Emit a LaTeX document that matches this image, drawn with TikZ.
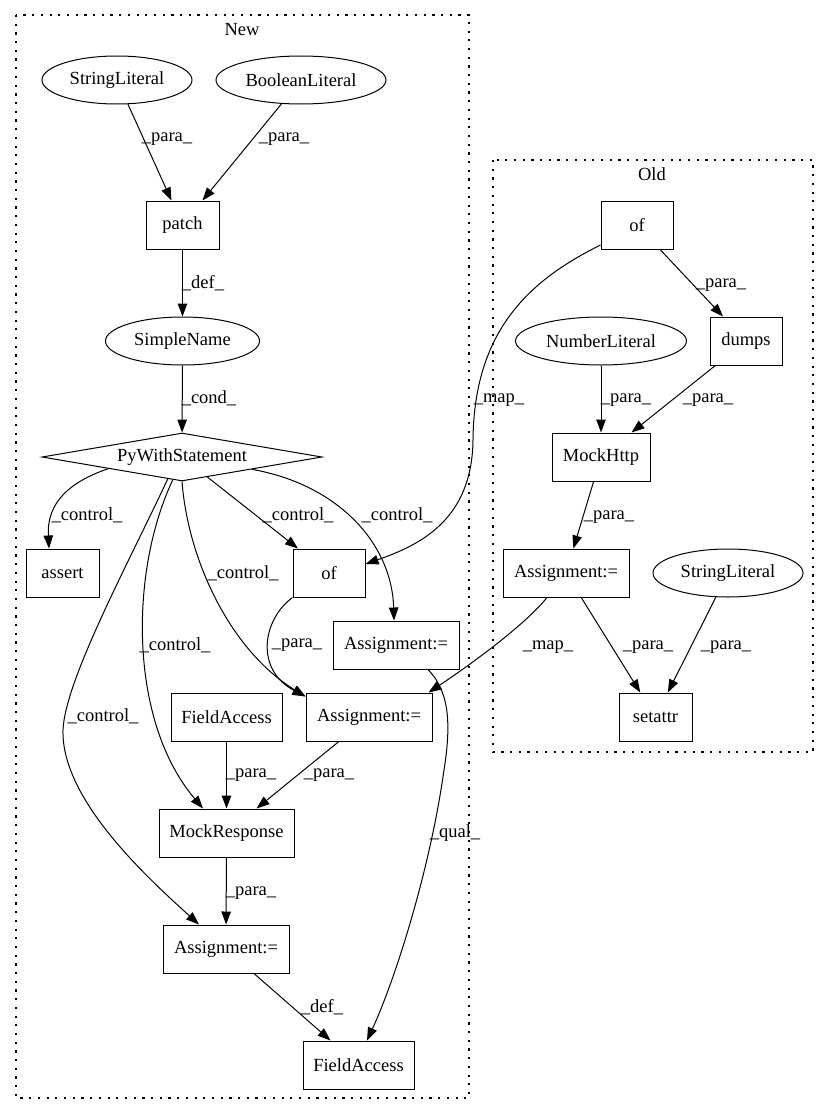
\documentclass[tikz,border=0pt]{standalone}
\usepackage{fontspec}
\setmainfont{Liberation Serif}
\usetikzlibrary{arrows.meta,shapes.geometric}
\tikzset{
  box/.style={draw, rectangle, line width=1pt, minimum height=48pt, inner sep=0pt},
  ell/.style={draw, ellipse, line width=1pt, minimum height=48pt, inner sep=0pt},
  dia/.style={draw, diamond, line width=1pt, shape aspect=5.83, minimum width=280pt, minimum height=48pt, inner sep=0pt},
  conn/.style={-{Triangle[length=13pt,width=9.5pt]}, line width=1pt},
  lbl/.style={inner sep=0pt},
  clus/.style={line width=1.2pt, dash pattern=on 2.2pt off 6.5pt}
}
\begin{document}
\begin{tikzpicture}[x=1pt, y=-1pt, font=\fontsize{18.5}{22}\selectfont]
\useasboundingbox (0,0) rectangle (829,1116);
% clusters
\draw[clus] (16,15) rectangle (469,1098);
\node[lbl] (newlab) at (242,30) {New};
\draw[clus] (493,160) rectangle (813,752);
\node[lbl] (oldlab) at (652,174) {Old};
% New nodes
\node[ell, minimum width=150pt] (sl1) at (117,80) {StringLiteral};
\node[ell, minimum width=170pt] (bl) at (301,80) {BooleanLiteral};
\node[box, minimum width=73pt] (patch) at (182.5,225) {patch};
\node[ell, minimum width=154pt] (sn) at (182.5,341) {SimpleName};
\node[dia] (pws) at (182,457) {PyWithStatement};
\node[box, minimum width=73pt] (assert) at (62.5,573) {assert};
\node[box, minimum width=72pt] (ofN) at (329,573) {of};
\node[box, minimum width=126pt] (asgU) at (396,645) {Assignment:=};
\node[box, minimum width=111pt] (fa1) at (226.5,717) {FieldAccess};
\node[box, minimum width=126pt] (asgM) at (369,717) {Assignment:=};
\node[box, minimum width=135pt] (mr) at (226.5,833) {MockResponse};
\node[box, minimum width=126pt] (asgB) at (226,949) {Assignment:=};
\node[box, minimum width=111pt] (fa2) at (358.5,1065) {FieldAccess};
% Old nodes
\node[box, minimum width=72pt] (ofO) at (637,225) {of};
\node[box, minimum width=72pt] (dumps) at (746,341) {dumps};
\node[ell, minimum width=171pt] (nl) at (601,341) {NumberLiteral};
\node[box, minimum width=98pt] (mh) at (601,457) {MockHttp};
\node[box, minimum width=126pt] (asgO) at (566,573) {Assignment:=};
\node[ell, minimum width=150pt] (sl2) at (728,573) {StringLiteral};
\node[box, minimum width=73pt] (setattr) at (655.5,717) {setattr};
% edges New
\draw[conn] (sl1) -- (patch);
\draw[conn] (bl) -- (patch);
\draw[conn] (patch) -- (sn);
\draw[conn] (sn) -- (pws);
\draw[conn] (pws.189) .. controls (60,485) and (47,510) .. ([xshift=-13.5pt]assert.north);
\draw[conn] (pws) -- (ofN);
\draw[conn] (pws.-10) .. controls (340,485) and (392,545) .. ([xshift=-2pt]asgU.north);
\draw[conn] (pws.south) .. controls (188,560) and (230,650) .. ([yshift=-4pt]asgM.north west);
\draw[conn] (pws.248) .. controls (130,570) and (128,720) .. ([xshift=-23.5pt]mr.north);
\draw[conn] (pws.237) .. controls (130,560) and (65,680) .. (63,730) .. controls (61,800) and (150,880) .. ([xshift=-27pt]asgB.north);
\draw[conn] (ofN.south west) .. controls (262,620) and (255,670) .. ([yshift=-4pt]asgM.north west);
\draw[conn] (fa1) -- (mr);
\draw[conn] (asgM) -- (mr);
\draw[conn] (mr) -- (asgB);
\draw[conn] (asgB) -- (fa2);
\draw[conn] ([xshift=32pt]asgU.south) .. controls (448,690) and (452,720) .. (444,770) .. controls (430,870) and (395,980) .. ([xshift=8.5pt]fa2.north);
% edges Old
\draw[conn] (ofO) -- (dumps);
\draw[conn] (nl) -- (mh);
\draw[conn] (dumps) -- (mh);
\draw[conn] (mh) -- (asgO);
\draw[conn] (asgO) -- (setattr);
\draw[conn] (sl2) -- (setattr);
% cross edges
\draw[conn] ([yshift=-20pt]ofO.west) .. controls (530,280) and (474,330) .. (473,440) .. controls (472,520) and (420,545) .. ([yshift=9pt]ofN.east);
\draw[conn] ([xshift=-19pt]asgO.south) .. controls (525,625) and (470,665) .. ([xshift=-4pt]asgM.north east);
% labels
\node[lbl] (l1) at (167,139) {\_para\_};
\node[lbl] (l2) at (284,139) {\_para\_};
\node[lbl] (l3) at (203,283) {\_def\_};
\node[lbl] (l4) at (209,398) {\_cond\_};
\node[lbl] (l5) at (87,515) {\_control\_};
\node[lbl] (l6) at (298,515) {\_control\_};
\node[lbl] (l7) at (397,515) {\_control\_};
\node[lbl] (l8) at (243,573) {\_control\_};
\node[lbl] (l9) at (175,645) {\_control\_};
\node[lbl] (l10) at (103,716) {\_control\_};
\node[lbl] (l11) at (297,645) {\_para\_};
\node[lbl] (l12) at (251,775) {\_para\_};
\node[lbl] (l13) at (329,775) {\_para\_};
\node[lbl] (l14) at (251,893) {\_para\_};
\node[lbl] (l15) at (322,1007) {\_def\_};
\node[lbl] (l16) at (455,833) {\_qual\_};
\node[lbl] (l17) at (721,285) {\_para\_};
\node[lbl] (l18) at (626,400) {\_para\_};
\node[lbl] (l19) at (708,400) {\_para\_};
\node[lbl] (l20) at (609,517) {\_para\_};
\node[lbl] (l21) at (548,647) {\_map\_};
\node[lbl] (l22) at (648,647) {\_para\_};
\node[lbl] (l23) at (726,647) {\_para\_};
\node[lbl] (l24) at (499,400) {\_map\_};
\end{tikzpicture}
\end{document}
